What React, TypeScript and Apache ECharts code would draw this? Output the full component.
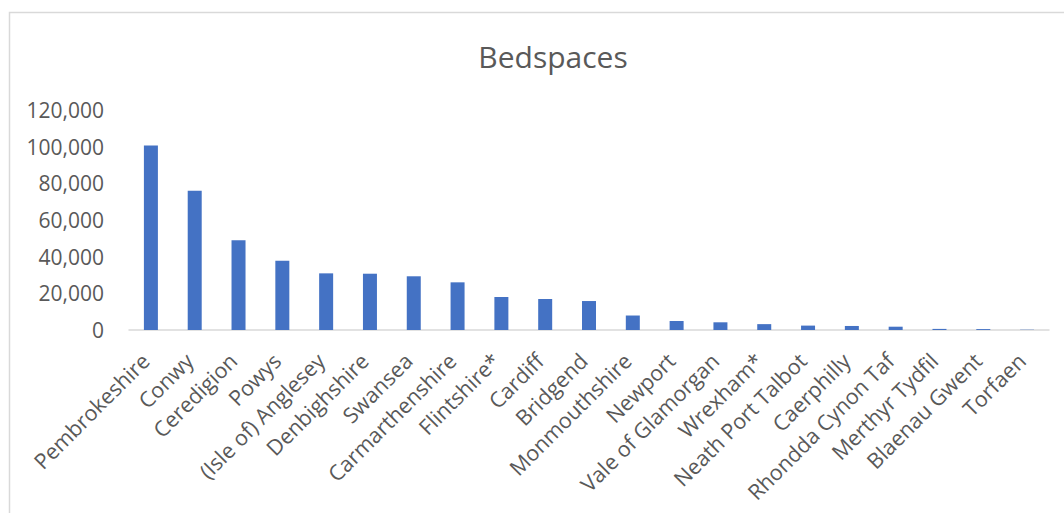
import React, { useEffect, useRef } from "react";
import * as echarts from "echarts";

const categories = [
  "Pembrokeshire",
  "Conwy",
  "Ceredigion",
  "Powys",
  "(Isle of) Anglesey",
  "Denbighshire",
  "Swansea",
  "Carmarthenshire",
  "Flintshire*",
  "Cardiff",
  "Bridgend",
  "Monmouthshire",
  "Newport",
  "Vale of Glamorgan",
  "Wrexham*",
  "Neath Port Talbot",
  "Caerphilly",
  "Rhondda Cynon Taf",
  "Merthyr Tydfil",
  "Blaenau Gwent",
  "Torfaen",
];

const bedspaces = [
  100600, 76000, 49000, 37800, 30900, 30700, 29300, 26000, 18000, 16900, 15800,
  7900, 4900, 4200, 3200, 2400, 2200, 1800, 600, 500, 150,
];

const titleText = "Bedspaces";
const yMin = 0;
const yMax = 120000;
const yInterval = 20000;

const FONT = "'Open Sans', 'Noto Sans', sans-serif";
const TEXT = "#595959";

export default function App() {
  const ref = useRef<HTMLDivElement>(null);
  useEffect(() => {
    if (!ref.current) return;
    const chart = echarts.init(ref.current, undefined, { renderer: "svg" });
    chart.setOption({
      animation: false,
      backgroundColor: "#ffffff",
      textStyle: { fontFamily: FONT },
      title: {
        text: titleText,
        left: 548,
        top: 36,
        textAlign: "center",
        textStyle: { fontFamily: FONT, fontSize: 30, fontWeight: "normal", color: TEXT },
      },
      graphic: [
        {
          type: "rect",
          shape: { x: 9.5, y: 12.5, width: 1100, height: 600 },
          style: { fill: "none", stroke: "#D9D9D9", lineWidth: 1.5 },
          silent: true,
        },
      ],
      grid: { left: 129, right: 15, top: 110, bottom: 183, containLabel: false },
      xAxis: {
        type: "category",
        data: categories,
        axisLine: { show: true, lineStyle: { color: "#D9D9D9", width: 1.5 } },
        axisTick: { show: false },
        axisLabel: {
          rotate: 45,
          interval: 0,
          margin: 21,
          padding: [0, 8, 0, 0],
          color: TEXT,
          fontSize: 21.5,
          fontFamily: FONT,
        },
      },
      yAxis: {
        type: "value",
        min: yMin,
        max: yMax,
        interval: yInterval,
        axisLine: { show: false },
        axisTick: { show: false },
        splitLine: { show: false },
        axisLabel: {
          margin: 25,
          color: TEXT,
          fontSize: 21,
          fontFamily: FONT,
          formatter: (v: number) => v.toLocaleString("en-US"),
        },
      },
      series: [
        {
          type: "bar",
          data: bedspaces,
          barWidth: 14,
          itemStyle: { color: "#4472C4" },
        },
      ],
    });
    return () => chart.dispose();
  }, []);
  return (
    <div
      ref={ref}
      style={{ position: "fixed", left: 0, top: 0, width: 1064, height: 513 }}
    />
  );
}
